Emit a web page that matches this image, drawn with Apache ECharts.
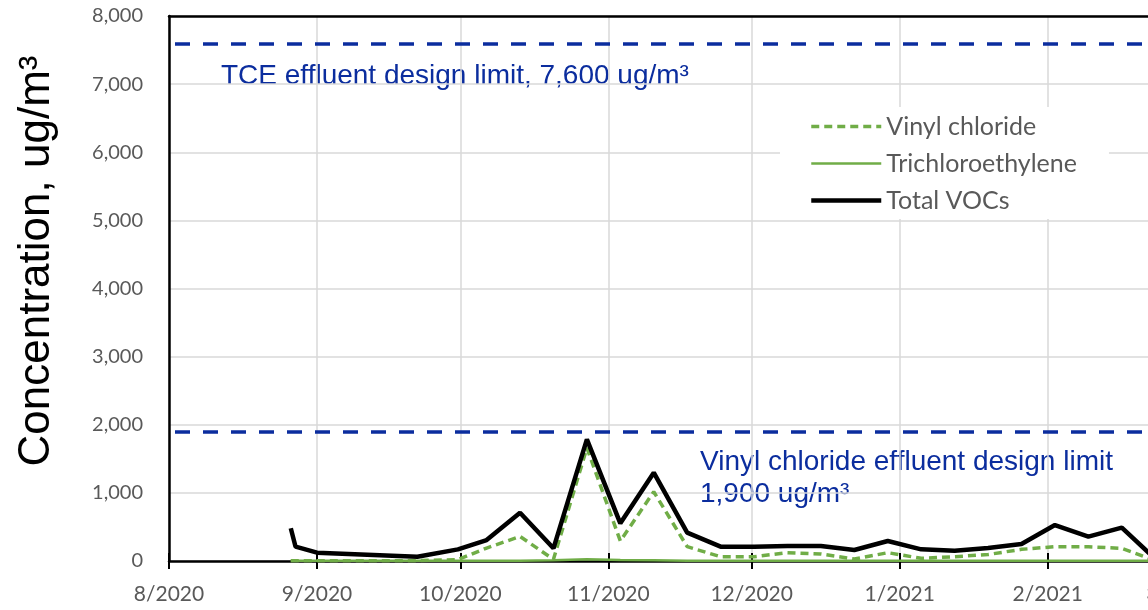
<!DOCTYPE html>
<html>
<head>
<meta charset="utf-8">
<script src="https://cdn.jsdelivr.net/npm/echarts@6/dist/echarts.min.js"></script>
<style>
  html, body { margin: 0; padding: 0; background: #fff; }
  #chart { width: 1148px; height: 610px; }
</style>
</head>
<body>
<div id="chart"></div>
<script>
// Sampling times (midday)
const sampleDates = [
  '2020-08-26 12:00', '2020-08-27 12:00', '2020-09-01 00:00', '2020-09-22 00:00', '2020-09-30 12:00',
  '2020-10-06 12:00', '2020-10-13 12:00', '2020-10-20 12:00', '2020-10-27 12:00', '2020-11-03 12:00',
  '2020-11-10 12:00', '2020-11-17 12:00', '2020-11-24 12:00', '2020-12-01 12:00', '2020-12-08 12:00',
  '2020-12-15 12:00', '2020-12-22 12:00', '2020-12-29 12:00', '2021-01-05 12:00', '2021-01-12 12:00',
  '2021-01-19 12:00', '2021-01-26 12:00', '2021-02-02 12:00', '2021-02-09 12:00', '2021-02-16 12:00',
  '2021-02-23 12:00'
];

// Concentrations, ug/m3
const vinylChloride = [
  5, 5, 5, 5, 20,
  190, 360, 25, 1660, 294,
  1017, 210, 63, 63, 122,
  103, 29, 122, 39, 63,
  95, 171, 210, 210, 186,
  5
];
const trichloroethylene = [
  3, 3, 3, 3, 3,
  5, 5, 10, 25, 15,
  10, 5, 4, 4, 4,
  4, 4, 4, 4, 4,
  4, 4, 4, 4, 4,
  3
];
const totalVOCs = [
  480, 210, 122, 63, 171,
  308, 709, 186, 1786, 553,
  1297, 416, 211, 211, 220,
  220, 161, 294, 171, 151,
  190, 250, 528, 357, 489,
  30
];

// Design limits, ug/m3
const tceLimit = 7600;
const vcLimit = 1900;

const yTicks = { min: 0, max: 8000, interval: 1000 };
const xRange = { min: '2020-08-01', max: '2021-03-01' };

const seriesNames = ['Vinyl chloride', 'Trichloroethylene', 'Total VOCs'];

const pairs = (vals) => sampleDates.map((d, i) => [d, vals[i]]);

const GREEN = '#70ad47';
const BLUE = '#0b2d9e';
const GRAY = '#595959';
const GRID = '#d9d9d9';
const DAY = 86400000;

const timeAxisBase = {
  type: 'time',
  min: xRange.min, max: xRange.max,
  minInterval: 28 * DAY, maxInterval: 31 * DAY
};

const chart = echarts.init(document.getElementById('chart'), null, { renderer: 'canvas' });

chart.setOption({
  animation: false,
  backgroundColor: '#fff',
  // the plot runs on past the right edge of the page
  grid: { left: 169, top: 16, bottom: 49, width: 1012.5, containLabel: false, outerBoundsMode: 'none' },
  legend: {
    data: seriesNames,
    orient: 'vertical',
    left: 780, top: 107,
    backgroundColor: '#fff',
    padding: [7, 32, 6, 29],
    itemWidth: 70, itemHeight: 14, itemGap: 12,
    itemStyle: { opacity: 0 },
    lineStyle: { width: 'inherit', type: 'inherit' },
    textStyle: { fontFamily: 'Lato', fontSize: 25, color: GRAY }
  },
  xAxis: [Object.assign({}, timeAxisBase, {
    position: 'bottom',
    axisLine: { show: true, lineStyle: { color: '#000', width: 2.5 } },
    axisTick: { show: true, inside: false, length: 8, lineStyle: { color: '#000', width: 2 } },
    splitLine: { show: true, lineStyle: { color: GRID, width: 1.5 } },
    axisLabel: {
      showMinLabel: true, hideOverlap: false,
      margin: 23, fontFamily: 'Lato', fontSize: 21, color: GRAY,
      formatter: (v) => { const d = new Date(v); return (d.getMonth() + 1) + '/' + d.getFullYear(); }
    }
  }), Object.assign({}, timeAxisBase, {
    position: 'bottom',
    axisLine: { show: false },
    axisTick: { show: true, inside: true, length: 8, lineStyle: { color: '#000', width: 2 } },
    splitLine: { show: false },
    axisLabel: { show: false }
  }), Object.assign({}, timeAxisBase, {
    position: 'top',
    axisLine: { show: true, lineStyle: { color: '#000', width: 2.5 } },
    axisTick: { show: false },
    splitLine: { show: false },
    axisLabel: { show: false }
  })],
  yAxis: {
    type: 'value',
    min: yTicks.min, max: yTicks.max, interval: yTicks.interval,
    axisLine: { show: true, lineStyle: { color: '#000', width: 2.5 } },
    axisTick: { show: false },
    splitLine: { show: true, lineStyle: { color: GRID, width: 1.5 } },
    axisLabel: {
      margin: 26, fontFamily: 'Lato', fontSize: 20, color: GRAY,
      formatter: (v) => v.toLocaleString('en-US')
    }
  },
  series: [
    {
      name: 'Vinyl chloride', type: 'line', symbol: 'none', z: 3,
      lineStyle: { color: GREEN, width: 3.5, type: [8, 5] },
      itemStyle: { color: GREEN },
      data: pairs(vinylChloride)
    },
    {
      name: 'Trichloroethylene', type: 'line', symbol: 'none', z: 2,
      lineStyle: { color: GREEN, width: 2.5 },
      itemStyle: { color: GREEN },
      data: pairs(trichloroethylene),
      markLine: {
        silent: true, symbol: 'none',
        label: { show: false },
        lineStyle: { color: BLUE, width: 3.5, type: [15, 13], dashOffset: 22 },
        data: [{ yAxis: tceLimit }, { yAxis: vcLimit }]
      }
    },
    {
      name: 'Total VOCs', type: 'line', symbol: 'none', z: 4,
      lineStyle: { color: '#000', width: 4.5 },
      itemStyle: { color: '#000' },
      data: pairs(totalVOCs)
    }
  ],
  graphic: [
    {
      type: 'text', x: 37, y: 261, rotation: Math.PI / 2,
      style: {
        text: 'Concentration, ug/m³', fill: '#000',
        font: '44px "Liberation Sans", Arial, sans-serif',
        align: 'center', verticalAlign: 'middle'
      }
    },
    {
      type: 'text', x: 221, y: 76.5,
      style: {
        text: 'TCE effluent design limit, 7,600 ug/m³', fill: BLUE,
        font: '28px "Liberation Sans", Arial, sans-serif',
        align: 'left', verticalAlign: 'middle'
      }
    },
    {
      type: 'text', x: 700, y: 462,
      style: {
        text: 'Vinyl chloride effluent design limit', fill: BLUE,
        font: '28px "Liberation Sans", Arial, sans-serif',
        align: 'left', verticalAlign: 'middle'
      }
    },
    {
      type: 'text', x: 700, y: 494.5,
      style: {
        text: '1,900 ug/m³', fill: BLUE,
        font: '28px "Liberation Sans", Arial, sans-serif',
        align: 'left', verticalAlign: 'middle'
      }
    }
  ]
});
</script>
</body>
</html>
